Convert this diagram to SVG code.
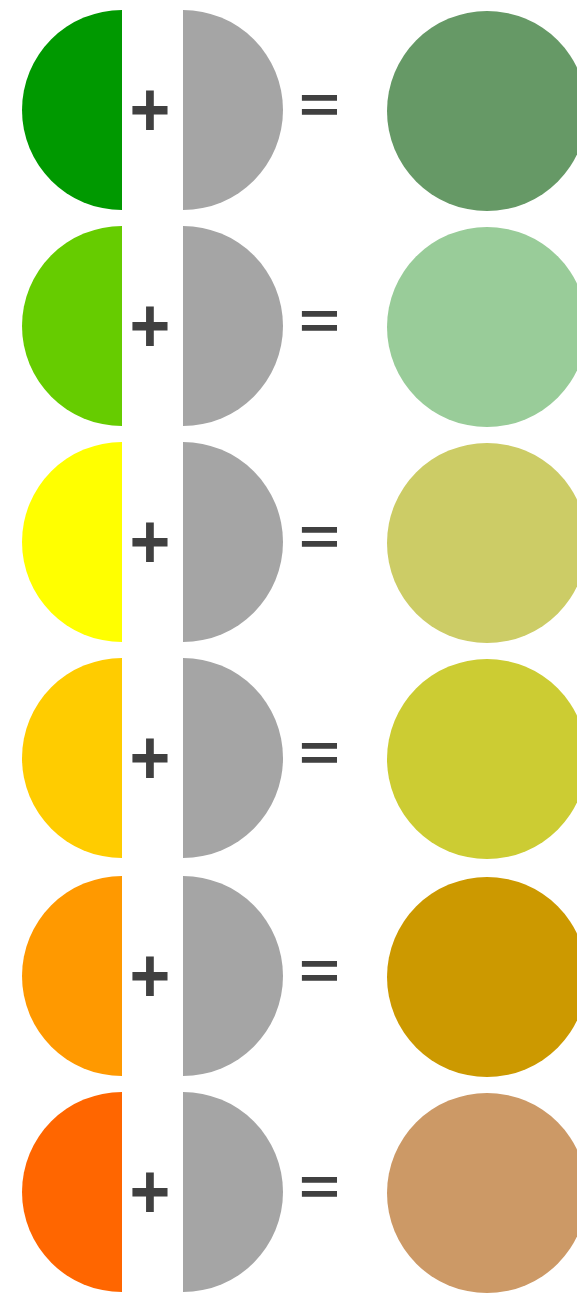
<svg xmlns="http://www.w3.org/2000/svg" xmlns:xlink="http://www.w3.org/1999/xlink" width="577" height="1293" viewBox="0 0 577 1293">
<style>
.op{font-family:"Liberation Sans",Arial,sans-serif;font-weight:bold;fill:#404040;text-anchor:middle;font-size:70px}
.gray{fill:#a5a5a5}
</style>
<defs>
<path id="lh" d="M122,-100 A100,100 0 0 0 122,100 Z"/>
<path id="gh" d="M183,-100 A100,100 0 0 1 183,100 Z"/>
</defs>
<rect width="577" height="1293" fill="#ffffff"/>
<g id="row1" transform="translate(0,110)">
<use xlink:href="#lh" fill="#009900"/>
<text class="op" transform="translate(150,25.5) scale(1,1.12)">+</text>
<use xlink:href="#gh" class="gray"/>
<text class="op" transform="translate(319.5,12) scale(1,0.75)">=</text>
<circle cx="487" cy="1" r="100" fill="#669966"/>
</g>
<g id="row2" transform="translate(0,326)">
<use xlink:href="#lh" fill="#66cc00"/>
<text class="op" transform="translate(150,25.5) scale(1,1.12)">+</text>
<use xlink:href="#gh" class="gray"/>
<text class="op" transform="translate(319.5,12) scale(1,0.75)">=</text>
<circle cx="487" cy="1" r="100" fill="#99cc99"/>
</g>
<g id="row3" transform="translate(0,542)">
<use xlink:href="#lh" fill="#ffff00"/>
<text class="op" transform="translate(150,25.5) scale(1,1.12)">+</text>
<use xlink:href="#gh" class="gray"/>
<text class="op" transform="translate(319.5,12) scale(1,0.75)">=</text>
<circle cx="487" cy="1" r="100" fill="#cccc66"/>
</g>
<g id="row4" transform="translate(0,758)">
<use xlink:href="#lh" fill="#ffcc00"/>
<text class="op" transform="translate(150,25.5) scale(1,1.12)">+</text>
<use xlink:href="#gh" class="gray"/>
<text class="op" transform="translate(319.5,12) scale(1,0.75)">=</text>
<circle cx="487" cy="1" r="100" fill="#cccc33"/>
</g>
<g id="row5" transform="translate(0,976)">
<use xlink:href="#lh" fill="#ff9900"/>
<text class="op" transform="translate(150,25.5) scale(1,1.12)">+</text>
<use xlink:href="#gh" class="gray"/>
<text class="op" transform="translate(319.5,12) scale(1,0.75)">=</text>
<circle cx="487" cy="1" r="100" fill="#cc9900"/>
</g>
<g id="row6" transform="translate(0,1192)">
<use xlink:href="#lh" fill="#ff6600"/>
<text class="op" transform="translate(150,25.5) scale(1,1.12)">+</text>
<use xlink:href="#gh" class="gray"/>
<text class="op" transform="translate(319.5,12) scale(1,0.75)">=</text>
<circle cx="487" cy="1" r="100" fill="#cc9966"/>
</g>
</svg>
